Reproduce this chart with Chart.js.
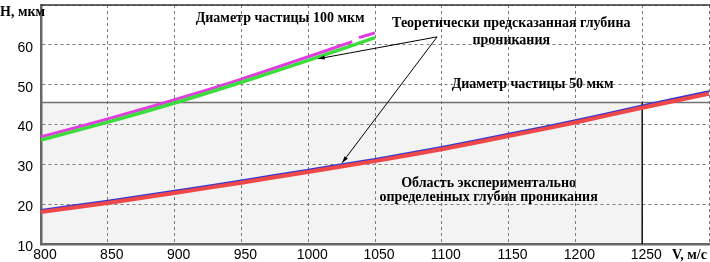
<!DOCTYPE html>
<html>
<head>
<meta charset="utf-8">
<script src="https://cdn.jsdelivr.net/npm/chart.js@4/dist/chart.umd.min.js"></script>
<style>
html,body{margin:0;padding:0;background:#fff;}
#wrap{width:710px;height:262px;position:relative;}
</style>
</head>
<body>
<div id="wrap"><canvas id="c" width="710" height="262"></canvas></div>
<script>
// ---- data ----
const xTicks = [800, 850, 900, 950, 1000, 1050, 1100, 1150, 1200, 1250, 1300];
const yTicks = [10, 20, 30, 40, 50, 60, 70];

// particle 100 um (magenta / green), x positions and values
const xD100 = [800, 850, 900, 950, 1000, 1033, 1035, 1038, 1050];
const magenta100 = [36.9, 41.4, 46.2, 51.4, 57.0, 60.8, null, 61.8, 63.0];
const xGreen100 = [800, 850, 900, 950, 1000, 1050];
const green100 = [36.1, 40.6, 45.4, 50.6, 56.1, 61.8];

// particle 50 um (blue / red)
const xD50 = [800, 850, 900, 950, 1000, 1050, 1100, 1150, 1200, 1250, 1300];
const blue50 = [18.5, 20.8, 23.3, 25.9, 28.6, 31.3, 34.3, 37.6, 41.0, 44.7, 48.3];
const red50 = [18.0, 20.3, 22.8, 25.4, 28.1, 30.8, 33.8, 37.1, 40.5, 44.2, 47.7];

// experimental region
const regionX = [800, 1250];
const regionY = [10, 45.5];

// annotation texts
const yTitle = 'H, мкм';
const xTitle = 'V, м/с';
const labels = [
  {text: 'Диаметр частицы 100 мкм', x: 979, y: 66.6},
  {text: 'Теоретически предсказанная глубина', x: 1152, y: 65.5},
  {text: 'проникания', x: 1152, y: 61.2},
  {text: 'Диаметр частицы 50 мкм', x: 1168, y: 50.0},
  {text: 'Область экспериментально', x: 1135, y: 25.3},
  {text: 'определенных глубин проникания', x: 1135, y: 21.6}
];
const arrowFrom = [1096.5, 62.0];
const arrowTips = [[1007.4, 56.5], [1025.4, 30.4]];

function pts(xs, ys){ return xs.map((x,i)=>({x:x, y:ys[i]})); }

const serifBold = 'bold 14px "Liberation Serif", "Times New Roman", serif';

const decor = {
  id: 'decor',
  beforeDraw(chart){
    const {ctx, scales:{x, y}} = chart;
    ctx.save();
    ctx.fillStyle = '#f3f3f3';
    const x0 = x.getPixelForValue(regionX[0]), x1 = x.getPixelForValue(regionX[1]);
    const y0 = y.getPixelForValue(regionY[0]), y1 = y.getPixelForValue(regionY[1]);
    ctx.fillRect(x0, y1, x1 - x0, y0 - y1);
    ctx.restore();
  },
  beforeDatasetsDraw(chart){
    const {ctx, chartArea, scales:{x, y}} = chart;
    ctx.save();
    const x1 = x.getPixelForValue(regionX[1]);
    const y0 = y.getPixelForValue(regionY[0]), y1 = y.getPixelForValue(regionY[1]);
    ctx.strokeStyle = '#707070';
    ctx.lineWidth = 1.5;
    ctx.beginPath();
    ctx.moveTo(chartArea.left, y1);
    ctx.lineTo(chartArea.right + 2, y1);
    ctx.stroke();
    ctx.strokeStyle = '#111';
    ctx.beginPath();
    ctx.moveTo(x1, y1);
    ctx.lineTo(x1, y0);
    ctx.stroke();
    // top border
    ctx.strokeStyle = '#333';
    ctx.lineWidth = 1.5;
    ctx.beginPath();
    ctx.moveTo(chartArea.left, chartArea.top);
    ctx.lineTo(chartArea.right + 2, chartArea.top);
    ctx.stroke();
    ctx.restore();
  },
  afterDraw(chart){
    const {ctx, scales:{x, y}} = chart;
    ctx.save();
    ctx.fillStyle = '#000';
    ctx.font = serifBold;
    ctx.textAlign = 'center';
    ctx.textBaseline = 'middle';
    labels.forEach(l => ctx.fillText(l.text, x.getPixelForValue(l.x), y.getPixelForValue(l.y)));
    // axis titles
    ctx.textAlign = 'left';
    ctx.fillText(yTitle, 0, 12);
    ctx.fillText(xTitle, 672, 255);
    // arrows
    ctx.strokeStyle = '#000';
    ctx.lineWidth = 1;
    const fx = x.getPixelForValue(arrowFrom[0]), fy = y.getPixelForValue(arrowFrom[1]);
    arrowTips.forEach(t => {
      const tx = x.getPixelForValue(t[0]), ty = y.getPixelForValue(t[1]);
      ctx.beginPath();
      ctx.moveTo(fx, fy);
      ctx.lineTo(tx, ty);
      ctx.stroke();
      const ang = Math.atan2(ty - fy, tx - fx);
      const L = 7, W = 0.3;
      ctx.beginPath();
      ctx.moveTo(tx, ty);
      ctx.lineTo(tx - L*Math.cos(ang - W), ty - L*Math.sin(ang - W));
      ctx.lineTo(tx - L*Math.cos(ang + W), ty - L*Math.sin(ang + W));
      ctx.closePath();
      ctx.fill();
    });
    ctx.restore();
  }
};

function zeroPad(s){ s.paddingTop = 0; s.paddingBottom = 0; s.paddingLeft = 0; s.paddingRight = 0; }

new Chart(document.getElementById('c'), {
  type: 'line',
  data: {
    datasets: [
      {data: pts(xGreen100, green100), borderColor: '#3ddc3d', borderWidth: 3.5, pointRadius: 0, tension: 0.3, spanGaps: false},
      {data: pts(xD100, magenta100), borderColor: '#e03ce0', borderWidth: 3, pointRadius: 0, tension: 0.3, spanGaps: false},
      {data: pts(xD50, red50), borderColor: '#f04848', borderWidth: 4, pointRadius: 0, tension: 0.3},
      {data: pts(xD50, blue50), borderColor: '#3838d0', borderWidth: 2.5, pointRadius: 0, tension: 0.3}
    ]
  },
  options: {
    responsive: false,
    animation: false,
    events: [],
    layout: {padding: {top: 5, right: 1, left: 0, bottom: 0}},
    plugins: {legend: {display: false}, tooltip: {enabled: false}},
    scales: {
      x: {
        type: 'linear', min: 800, max: 1300,
        afterBuildTicks: s => { s.ticks = xTicks.map(v => ({value: v})); },
        afterFit: s => { s.height = 18; zeroPad(s); },
        grid: {color: '#7a7a7a', lineWidth: 1, drawTicks: false},
        border: {display: true, color: '#666', width: 2.5, dash: [3, 3]},
        ticks: {
          font: {family: '"Liberation Sans", Arial, sans-serif', size: 14},
          color: '#000', padding: 3, labelOffset: 4, maxRotation: 0, autoSkip: false,
          callback: v => (v === 1300 ? '' : String(v))
        }
      },
      y: {
        min: 10, max: 70,
        afterBuildTicks: s => { s.ticks = yTicks.map(v => ({value: v})); },
        afterFit: s => { s.width = 41; zeroPad(s); },
        grid: {color: '#7a7a7a', lineWidth: 1, drawTicks: false},
        border: {display: true, color: '#666', width: 2.5, dash: [3, 3]},
        ticks: {
          font: {family: '"Liberation Sans", Arial, sans-serif', size: 14},
          color: '#000', padding: 8, labelOffset: 3, autoSkip: false,
          callback: v => (v === 70 ? '' : String(v))
        }
      }
    }
  },
  plugins: [decor]
});
</script>
</body>
</html>
